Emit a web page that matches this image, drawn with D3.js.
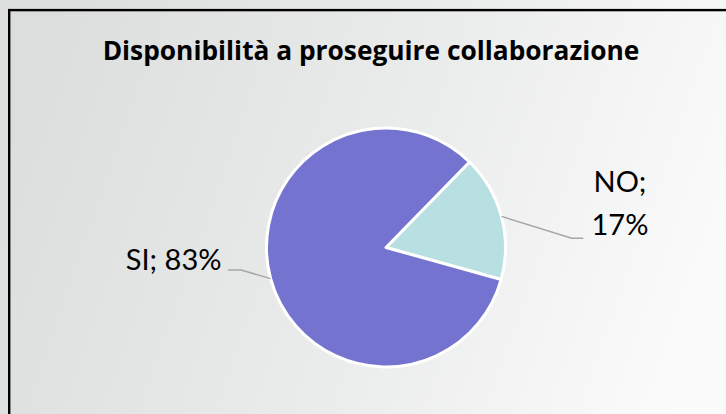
<!DOCTYPE html>
<html>
<head>
<meta charset="utf-8">
<script src="https://cdn.jsdelivr.net/npm/d3@7"></script>
<style>
  html, body { margin: 0; padding: 0; background: #ffffff; }
  svg { display: block; }
</style>
</head>
<body>
<svg id="chart" width="726" height="414"></svg>
<script>
// Survey answers and their shares (percent)
const categories = ["NO", "SI"];
const shares = [17, 83];
const chartTitle = "Disponibilità a proseguire collaborazione";

const W = 726, H = 414;
const svg = d3.select("#chart");

// Soft grey-to-white backdrop
const defs = svg.append("defs");
const bg = defs.append("linearGradient")
  .attr("id", "bg").attr("x1", "0%").attr("y1", "40%").attr("x2", "100%").attr("y2", "60%");
bg.append("stop").attr("offset", "0%").attr("stop-color", "#dcdddd");
bg.append("stop").attr("offset", "55%").attr("stop-color", "#ebecec");
bg.append("stop").attr("offset", "100%").attr("stop-color", "#fbfbfb");
svg.append("rect").attr("width", W).attr("height", H).attr("fill", "url(#bg)");

// Frame (runs off the right and bottom edges)
svg.append("rect")
  .attr("x", 9.2).attr("y", 10.1)
  .attr("width", W + 20).attr("height", H + 20)
  .attr("fill", "none").attr("stroke", "#000").attr("stroke-width", 2.4);

// Title, sized to span its box width
const titleWidth = 537;
const title = svg.append("text")
  .attr("x", 371).attr("y", 59.5)
  .attr("text-anchor", "middle")
  .attr("font-family", "'Open Sans', Lato, sans-serif")
  .attr("font-weight", "bold")
  .attr("font-size", 22)
  .attr("fill", "#000")
  .text(chartTitle);
const tw = title.node().getComputedTextLength();
if (tw > 0) title.attr("font-size", 22 * titleWidth / tw);

// Pie
const cx = 386, cy = 247.5, r = 119.5;
const colors = d3.scaleOrdinal().domain(categories).range(["#b8e0e2", "#7473d0"]);
const data = categories.map((c, i) => ({ cat: c, value: shares[i] }));
const start = 44.3 * Math.PI / 180;
const pie = d3.pie().sort(null).value(d => d.value)
  .startAngle(start).endAngle(start + 2 * Math.PI);
const arcs = pie(data);
const arc = d3.arc().innerRadius(0).outerRadius(r);
const rim = d3.arc().innerRadius(r).outerRadius(r);

const g = svg.append("g").attr("transform", `translate(${cx},${cy})`);
g.selectAll("path.slice").data(arcs).join("path")
  .attr("class", "slice")
  .attr("d", arc)
  .attr("fill", d => colors(d.data.cat))
  .attr("stroke", "#ffffff")
  .attr("stroke-width", 3)
  .attr("stroke-linejoin", "round");

// Label placement for each slice: leader elbow, leader end, text anchor
const labelLayout = {
  NO: { elbow: [185.7, -9.2], end: [197.3, -9.2], text: [234, -55.8], anchor: "middle", lines: d => [d.data.cat + ";", d.data.value + "%"] },
  SI: { elbow: [-145, 22.5], end: [-158, 22.5], text: [-164.5, 22.5], anchor: "end", lines: d => [d.data.cat + "; " + d.data.value + "%"] }
};

// Leader lines
g.selectAll("path.leader").data(arcs).join("path")
  .attr("class", "leader")
  .attr("d", d => {
    const L = labelLayout[d.data.cat];
    const p0 = rim.centroid(d);
    return d3.line()([p0, L.elbow, L.end]);
  })
  .attr("fill", "none")
  .attr("stroke", "#a6a6a6")
  .attr("stroke-width", 1.5);

// Data labels
const lineGap = 43.3;
g.selectAll("text.lbl").data(arcs).join("text")
  .attr("class", "lbl")
  .attr("x", d => labelLayout[d.data.cat].text[0])
  .attr("y", d => labelLayout[d.data.cat].text[1])
  .attr("text-anchor", d => labelLayout[d.data.cat].anchor)
  .attr("font-family", "Lato, 'Open Sans', sans-serif")
  .attr("font-size", 29)
  .attr("fill", "#000")
  .each(function (d) {
    const L = labelLayout[d.data.cat];
    d3.select(this).selectAll("tspan").data(L.lines(d)).join("tspan")
      .attr("x", L.text[0])
      .attr("dy", (t, i) => i === 0 ? 0 : lineGap)
      .text(t => t);
  });
</script>
</body>
</html>
